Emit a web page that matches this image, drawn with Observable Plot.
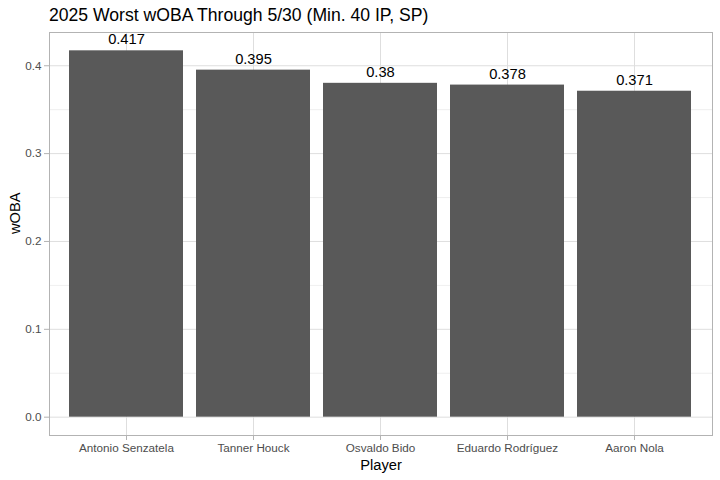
<!DOCTYPE html>
<html>
<head>
<meta charset="utf-8">
<script src="https://cdn.jsdelivr.net/npm/d3@7"></script>
<script src="https://cdn.jsdelivr.net/npm/@observablehq/plot@0.6"></script>
<style>
  body { margin: 0; background: #fff; font-family: "Liberation Sans", Arial, sans-serif; }
  #wrap { width: 720px; height: 480px; position: relative; }
  #title { height: 31px; font-size: 17.6px; color: #000; padding-left: 49px; box-sizing: border-box; line-height: 17.6px; padding-top: 7px; }
  svg { overflow: visible; }
</style>
</head>
<body>
<div id="wrap">
  <div id="title">2025 Worst wOBA Through 5/30 (Min. 40 IP, SP)</div>
  <div id="chart"></div>
</div>
<script>
const players = ["Antonio Senzatela", "Tanner Houck", "Osvaldo Bido", "Eduardo Rodríguez", "Aaron Nola"];
const woba = [0.417, 0.395, 0.38, 0.378, 0.371];
const labels = ["0.417", "0.395", "0.38", "0.378", "0.371"];
const yTicks = [0, 0.1, 0.2, 0.3, 0.4];
const yTickLabels = ["0.0", "0.1", "0.2", "0.3", "0.4"];
const yMinor = [0.05, 0.15, 0.25, 0.35];

const data = players.map((p, i) => ({player: p, woba: woba[i], label: labels[i]}));
const maxV = d3.max(woba);
const pad = maxV * 0.05;

const chart = Plot.plot({
  width: 720,
  height: 449,
  marginTop: 1,
  marginLeft: 49,
  marginRight: 8,
  marginBottom: 45,
  style: {fontFamily: "'Liberation Sans', Arial, sans-serif", background: "#fff", overflow: "visible"},
  x: {domain: players, paddingInner: 0.1, paddingOuter: 0.15, label: null},
  y: {domain: [-pad, maxV + pad], label: null},
  marks: [
    Plot.gridY(yMinor, {stroke: "#DEDEDE", strokeOpacity: 1, strokeWidth: 0.5}),
    Plot.gridY(yTicks, {stroke: "#DEDEDE", strokeOpacity: 1, strokeWidth: 1}),
    Plot.gridX(players, {stroke: "#DEDEDE", strokeOpacity: 1, strokeWidth: 1}),
    Plot.barY(data, {x: "player", y: "woba", fill: "#595959"}),
    Plot.text(data, {x: "player", y: "woba", text: "label", lineAnchor: "bottom", dy: -6.5, fontSize: 14.7, fill: "#000"}),
    Plot.frame({stroke: "#B3B3B3", strokeWidth: 1}),
    Plot.axisY(yTicks, {tickFormat: (d) => yTickLabels[yTicks.indexOf(d)], tickSize: 5, tickPadding: 3, stroke: "#B3B3B3", fill: "#4D4D4D", fontSize: 11.7, label: null}),
    Plot.axisX({tickSize: 5, tickPadding: 3, stroke: "#B3B3B3", fill: "#4D4D4D", fontSize: 11.7, label: null}),
    Plot.text(["Player"], {frameAnchor: "bottom", dy: 30, fontSize: 14.7, fill: "#000", lineAnchor: "middle"}),
    Plot.text(["wOBA"], {frameAnchor: "left", dx: -34, rotate: -90, fontSize: 14.7, fill: "#000"})
  ]
});
document.getElementById("chart").appendChild(chart);
</script>
</body>
</html>
